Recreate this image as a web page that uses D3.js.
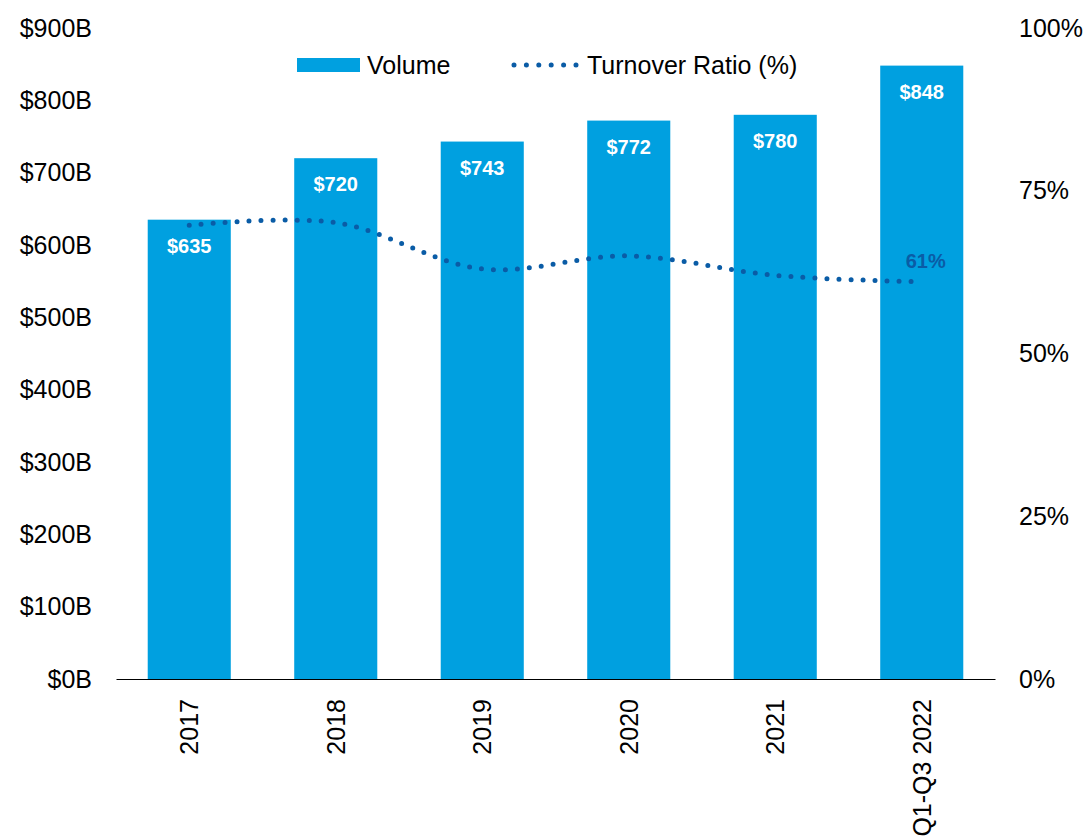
<!DOCTYPE html>
<html>
<head>
<meta charset="utf-8">
<script src="https://cdn.jsdelivr.net/npm/d3@7"></script>
<style>
  body { margin: 0; background: #fff; }
  svg text { font-family: "Liberation Sans", Arial, sans-serif; }
</style>
</head>
<body>
<div class="chart"></div>
<script>
// Data
const years = ['2017', '2018', '2019', '2020', '2021', 'Q1-Q3 2022'];
const volume = [635, 720, 743, 772, 780, 848];          // $B
const turnover = [69.7, 70.1, 63.0, 65.0, 62.0, 61.0];  // %
const leftTicks = [0, 100, 200, 300, 400, 500, 600, 700, 800, 900];
const rightTicks = [0, 25, 50, 75, 100];

const barColor = '#00a0e0';
const lineColor = '#0a5ca6';

const svg_width = 1089;
const svg_height = 840;
const margin = { top: 28, right: 94, bottom: 161, left: 116 };
const chart_width = svg_width - margin.left - margin.right;
const chart_height = svg_height - margin.top - margin.bottom;

const svg = d3.select('.chart').append('svg')
    .attr('width', svg_width).attr('height', svg_height);
const g = svg.append('g')
    .attr('transform', `translate(${margin.left}, ${margin.top})`);

// scales
const xScale = d3.scaleBand().domain(years).range([0, chart_width])
    .paddingInner(0.433).paddingOuter(0.2165);
const yLeft = d3.scaleLinear().domain([0, 900]).range([chart_height, 0]);
const yRight = d3.scaleLinear().domain([0, 100]).range([chart_height, 0]);

// bars
g.selectAll('.bar')
    .data(years)
    .enter()
    .append('rect')
    .attr('class', 'bar')
    .attr('x', d => xScale(d))
    .attr('y', (d, i) => yLeft(volume[i]))
    .attr('width', xScale.bandwidth())
    .attr('height', (d, i) => chart_height - yLeft(volume[i]))
    .attr('fill', barColor);

// bar labels
g.selectAll('.bar-label')
    .data(years)
    .enter()
    .append('text')
    .attr('class', 'bar-label')
    .attr('x', d => xScale(d) + xScale.bandwidth() / 2)
    .attr('y', (d, i) => yLeft(volume[i]) + 33)
    .attr('text-anchor', 'middle')
    .style('font-size', '20px').style('font-weight', 'bold')
    .attr('fill', '#fff')
    .text((d, i) => `$${volume[i]}`);

// turnover line
const line = d3.line()
    .x((d, i) => xScale(years[i]) + xScale.bandwidth() / 2)
    .y(d => yRight(d))
    .curve(d3.curveCatmullRom.alpha(0.5));
g.append('path')
    .datum(turnover)
    .attr('d', line)
    .attr('fill', 'none')
    .attr('stroke', lineColor)
    .attr('stroke-width', 5)
    .attr('stroke-linecap', 'round')
    .attr('stroke-dasharray', '0 12');

// last point label
const last = turnover.length - 1;
g.append('text')
    .attr('x', xScale(years[last]) + xScale.bandwidth() / 2 + 4)
    .attr('y', yRight(turnover[last]) - 14)
    .attr('text-anchor', 'middle')
    .style('font-size', '20px').style('font-weight', 'bold')
    .attr('fill', lineColor)
    .text(`${Math.round(turnover[last])}%`);

// axes
const xAxis = d3.axisBottom(xScale).tickSize(0).tickSizeOuter(0);
const xAxisDraw = g.append('g')
    .attr('transform', `translate(0, ${chart_height})`)
    .call(xAxis);
xAxisDraw.select('.domain').attr('stroke', '#000').attr('stroke-width', 1.2);
xAxisDraw.selectAll('text')
    .attr('transform', 'rotate(-90)')
    .attr('text-anchor', 'end')
    .attr('x', -20).attr('y', 0).attr('dy', '0.35em')
    .attr('fill', '#000')
    .style('font-size', '25px');

const yAxisL = d3.axisLeft(yLeft).tickValues(leftTicks).tickSize(0)
    .tickFormat(d => `$${d}B`);
const yAxisLDraw = g.append('g').call(yAxisL);
yAxisLDraw.select('.domain').remove();
yAxisLDraw.selectAll('text').attr('x', -24).attr('fill', '#000').style('font-size', '25px');

const yAxisR = d3.axisRight(yRight).tickValues(rightTicks).tickSize(0)
    .tickFormat(d => `${d}%`);
const yAxisRDraw = g.append('g')
    .attr('transform', `translate(${chart_width}, 0)`)
    .call(yAxisR);
yAxisRDraw.select('.domain').remove();
yAxisRDraw.selectAll('text').attr('x', 24).attr('fill', '#000').style('font-size', '25px');

// legend
const legend = svg.append('g').attr('class', 'legend');
legend.append('rect')
    .attr('x', 297).attr('y', 58).attr('width', 63).attr('height', 14)
    .attr('fill', barColor);
legend.append('text')
    .attr('x', 367).attr('y', 65).attr('dy', '0.35em')
    .style('font-size', '25px').attr('fill', '#000')
    .text('Volume');
legend.append('line')
    .attr('x1', 514).attr('x2', 576).attr('y1', 65).attr('y2', 65)
    .attr('stroke', lineColor).attr('stroke-width', 5)
    .attr('stroke-linecap', 'round').attr('stroke-dasharray', '0 12.4');
legend.append('text')
    .attr('x', 587).attr('y', 65).attr('dy', '0.35em')
    .style('font-size', '25px').attr('fill', '#000')
    .text('Turnover Ratio (%)');
</script>
</body>
</html>
